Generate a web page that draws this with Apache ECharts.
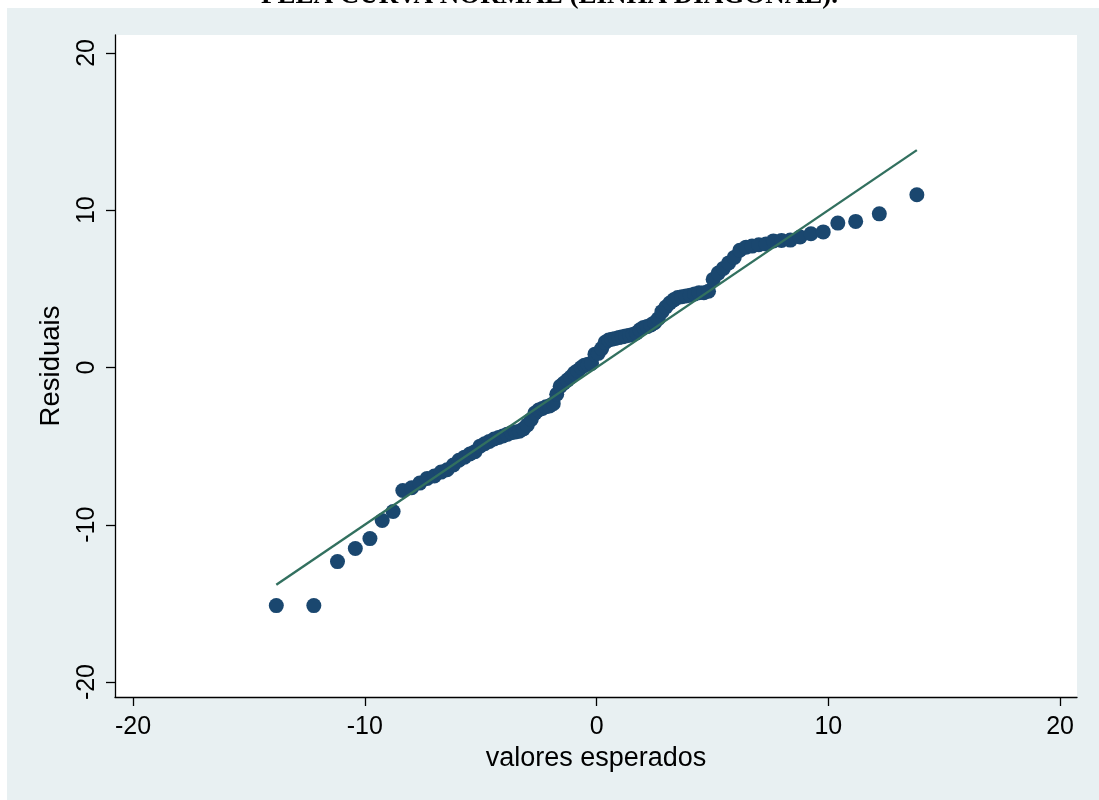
<!DOCTYPE html>
<html>
<head>
<meta charset="utf-8">
<script src="https://cdn.jsdelivr.net/npm/echarts@6/dist/echarts.min.js"></script>
<style>
  html, body { margin: 0; padding: 0; background: #ffffff; }
  #wrap { position: relative; width: 1099px; height: 800px; overflow: hidden; }
  #frame { position: absolute; left: 7px; top: 8px; right: 0; bottom: 0; background: #e8f0f2; }
  #chart { position: absolute; left: 0; top: 0; width: 1099px; height: 800px; }
</style>
</head>
<body>
<div id="wrap">
  <div id="frame"></div>
  <div id="chart"></div>
</div>
<script>
// Normal quantile plot of the residuals (qnorm)
const titleText = 'PELA CURVA NORMAL (LINHA DIAGONAL).';
const xTitle = 'valores esperados';
const yTitle = 'Residuais';
const tickValues = [-20, -10, 0, 10, 20];

// expected normal quantiles (x)
const esperados = [
  -13.82, -12.20, -11.18, -10.41, -9.78, -9.25, -8.78, -8.36, -7.98, -7.63,
  -7.31, -7.00, -6.71, -6.45, -6.18, -5.94, -5.70, -5.47, -5.25, -5.03,
  -4.83, -4.63, -4.42, -4.23, -4.04, -3.86, -3.68, -3.50, -3.33, -3.16,
  -2.99, -2.82, -2.66, -2.50, -2.34, -2.18, -2.03, -1.87, -1.72, -1.57,
  -1.42, -1.26, -1.11, -0.96, -0.81, -0.66, -0.52, -0.37, -0.22, -0.07,
  0.07, 0.22, 0.37, 0.52, 0.66, 0.81, 0.96, 1.11, 1.26, 1.42,
  1.57, 1.72, 1.87, 2.03, 2.18, 2.34, 2.50, 2.66, 2.82, 2.99,
  3.16, 3.33, 3.50, 3.68, 3.86, 4.04, 4.23, 4.42, 4.63, 4.83,
  5.03, 5.25, 5.47, 5.70, 5.94, 6.18, 6.45, 6.71, 7.00, 7.31,
  7.63, 7.98, 8.36, 8.78, 9.25, 9.78, 10.41, 11.18, 12.20, 13.82
];

// ordered residuals (y)
const residuais = [
  -15.14, -15.14, -12.34, -11.51, -10.88, -9.73, -9.16, -7.82, -7.65, -7.35,
  -7.05, -6.90, -6.65, -6.50, -6.20, -5.90, -5.70, -5.50, -5.35, -5.00,
  -4.85, -4.70, -4.55, -4.45, -4.35, -4.25, -4.15, -4.10, -4.05, -3.90,
  -3.65, -3.30, -2.90, -2.70, -2.60, -2.50, -2.45, -2.30, -1.70, -1.20,
  -1.00, -0.80, -0.60, -0.35, -0.20, 0.00, 0.15, 0.20, 0.25, 0.85,
  0.90, 1.20, 1.60, 1.75, 1.80, 1.85, 1.90, 1.95, 2.00, 2.05,
  2.10, 2.20, 2.40, 2.55, 2.60, 2.70, 2.85, 3.10, 3.55, 3.85,
  4.10, 4.30, 4.45, 4.50, 4.55, 4.60, 4.68, 4.75, 4.76, 4.85,
  5.60, 6.00, 6.30, 6.65, 7.00, 7.45, 7.65, 7.72, 7.80, 7.85,
  8.05, 8.08, 8.10, 8.30, 8.50, 8.62, 9.18, 9.29, 9.77, 10.98
];

const points = esperados.map((x, i) => [x, residuais[i]]);
const xLo = Math.min(...esperados), xHi = Math.max(...esperados);
const diagonal = [[xLo, xLo], [xHi, xHi]];

const axisFont = 'Liberation Sans, Arial, sans-serif';
const chart = echarts.init(document.getElementById('chart'), null, { renderer: 'canvas' });
chart.setOption({
  backgroundColor: 'transparent',
  animation: false,
  graphic: [{
    type: 'text',
    left: 'center',
    top: -17,
    style: {
      text: titleText,
      font: 'bold 27px "Liberation Serif", "Times New Roman", serif',
      fill: '#000'
    }
  }],
  grid: {
    left: 115, right: 22, top: 35, bottom: 103,
    show: true, backgroundColor: '#ffffff', borderWidth: 0
  },
  xAxis: {
    type: 'value', min: -20.78, max: 20.73,
    name: xTitle, nameLocation: 'middle', nameGap: 46,
    nameTextStyle: { fontFamily: axisFont, fontSize: 27, color: '#000' },
    axisLine: { show: true, onZero: false, lineStyle: { color: '#000', width: 1.3 } },
    axisTick: { show: true, length: 9, customValues: tickValues, lineStyle: { color: '#000', width: 1.3 } },
    axisLabel: { customValues: tickValues, margin: 18, fontFamily: axisFont, fontSize: 25, color: '#000' },
    splitLine: { show: false }
  },
  yAxis: {
    type: 'value', min: -20.95, max: 21.14,
    name: yTitle, nameLocation: 'middle', nameGap: 50, nameRotate: 90,
    nameTextStyle: { fontFamily: axisFont, fontSize: 27.5, color: '#000' },
    axisLine: { show: true, onZero: false, lineStyle: { color: '#000', width: 1.3 } },
    axisTick: { show: true, length: 9, customValues: tickValues, lineStyle: { color: '#000', width: 1.3 } },
    axisLabel: { customValues: tickValues, rotate: 90, margin: 15, fontFamily: axisFont, fontSize: 25, color: '#000' },
    splitLine: { show: false }
  },
  series: [{
    type: 'scatter',
    data: points,
    symbol: 'circle',
    symbolSize: 15,
    itemStyle: { color: '#1a476f', opacity: 1 },
    z: 2
  }, {
    type: 'line',
    data: diagonal,
    symbol: 'none',
    lineStyle: { color: '#32705f', width: 2.4 },
    z: 3
  }]
});
</script>
</body>
</html>
